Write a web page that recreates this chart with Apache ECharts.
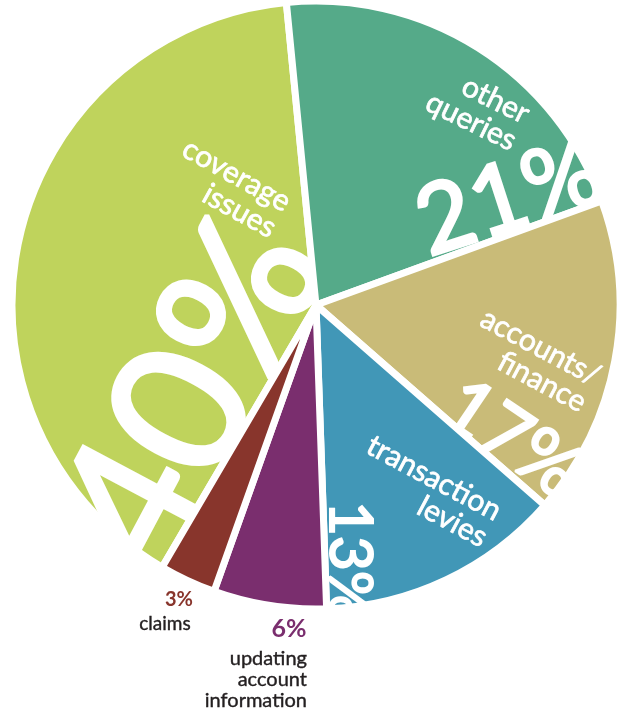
<!DOCTYPE html>
<html><head><meta charset="utf-8">
<script src="https://cdn.jsdelivr.net/npm/echarts@6/dist/echarts.min.js"></script>
<style>html,body{margin:0;padding:0;background:#fff}#c{width:617px;height:712px}</style>
</head><body><div id="c"></div>
<script>
// Data (clockwise from just left of 12 o'clock)
const categories = ['other queries', 'accounts/finance', 'transaction levies', 'updating account information', 'claims', 'coverage issues'];
const values = [21, 17, 13, 6, 3, 40];
const colors = ['#55aa89', '#c9bb78', '#4197b7', '#7a2e6e', '#88352c', '#bfd35c'];
const insideNames = ['other\nqueries', 'accounts/\nfinance', 'transaction\nlevies', null, null, 'coverage\nissues'];
const outsideNames = [null, null, null, 'updating\naccount\ninformation', 'claims', null];

const chart = echarts.init(document.getElementById('c'), null, {renderer: 'canvas'});
const CX = 316, CY = 305, R = 304;
const seriesZ = [4, 6, 8, 10, 12, 2];
const FONT = 'Lato';

const series = values.map((v, i) => ({
  type: 'pie',
  z: seriesZ[i],
  silent: true,
  animation: false,
  center: [CX, CY],
  radius: [0, R],
  startAngle: 95.6,
  clockwise: true,
  label: {show: false},
  labelLine: {show: false},
  emphasis: {disabled: true},
  data: values.map((vv, j) => ({
    value: vv,
    name: categories[j],
    itemStyle: j === i
      ? {color: colors[j], borderColor: '#ffffff', borderWidth: 7}
      : {color: 'rgba(0,0,0,0)', borderWidth: 0}
  }))
}));

function txt(text, x, y, rotDeg, size, opts) {
  opts = opts || {};
  const color = opts.color || '#ffffff';
  return {
    type: 'text', x: x, y: y, rotation: rotDeg * Math.PI / 180, z: opts.z || 20, silent: true,
    style: {
      text: text, fill: color, font: (opts.weight || 'normal') + ' ' + size + 'px ' + FONT,
      stroke: opts.sw ? color : null, lineWidth: opts.sw || 0, lineJoin: 'round',
      align: opts.align || 'center', verticalAlign: 'middle', lineHeight: opts.lh || Math.round(size * 1.0)
    }
  };
}

const pct = values.map(v => v + '%');
const graphics = [
  // other queries
  txt(insideNames[0], 521, 129, -26, 30, {align: 'right', z: seriesZ[0] + 1, lh: 30, sw: 0.7}),
  txt(pct[0], 509, 198, 18, 96, {z: seriesZ[0] + 1, sw: 3}),
  // accounts/finance
  txt(insideNames[1], 591, 391, -28, 30, {align: 'right', z: seriesZ[1] + 1, lh: 30, sw: 0.7}),
  txt(pct[1], 512, 439, -34, 76, {z: seriesZ[1] + 1, sw: 2.5}),
  // transaction levies
  txt(insideNames[2], 492, 526, -28, 30, {align: 'right', z: seriesZ[2] + 1, lh: 30, sw: 0.7}),
  txt(pct[2], 349, 560, -90, 60, {z: seriesZ[2] + 1, sw: 2}),
  // coverage issues
  txt(insideNames[5], 281, 217, -29, 30, {align: 'right', z: seriesZ[5] + 1, lh: 30, sw: 0.7}),
  txt(pct[5], 194, 394, 62, 184, {z: seriesZ[5] + 1, sw: 5}),
  // claims
  txt(pct[4], 179, 600, 0, 20, {color: colors[4], weight: 'bold'}),
  txt(outsideNames[4], 165, 624, 0, 19, {color: '#231f20', sw: 0.4}),
  // updating account information
  txt(pct[3], 289, 629, 0, 25, {color: colors[3], weight: 'bold'}),
  txt(outsideNames[3], 307, 680, 0, 20, {color: '#231f20', align: 'right', lh: 21, sw: 0.4})
];

chart.setOption({
  backgroundColor: '#ffffff',
  animation: false,
  series: series,
  graphic: {elements: graphics}
});
</script>
</body></html>
